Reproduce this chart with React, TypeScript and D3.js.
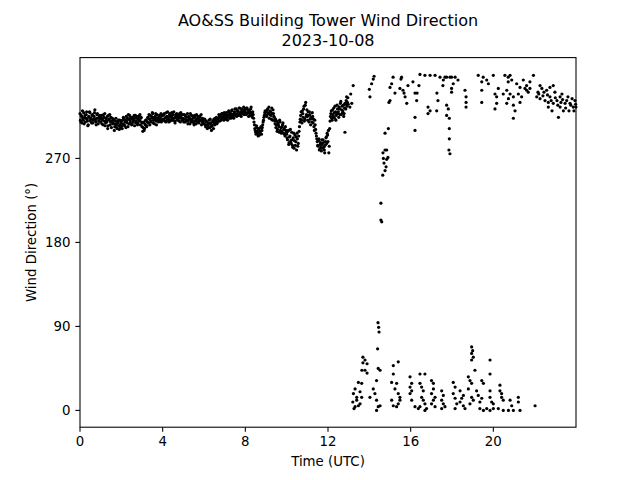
import * as d3 from "d3";
import { useMemo } from "react";

const title = "AO&SS Building Tower Wind Direction";
const subtitle = "2023-10-08";
const xLabel = "Time (UTC)";
const yLabel = "Wind Direction (°)";
const xTicks = [0, 4, 8, 12, 16, 20];
const yTicks = [0, 90, 180, 270];

// steady NW flow until ~13 UTC, one row per hour, readings every 0.04 h
const bandStep = 0.04;
const bandDirsA = [
  318, 309, 315, 321, 311, 307, 316, 313, 320, 310, 306, 314, 319, 312, 308, 317, 311, 315, 322, 309, 313, 318, 307, 314, 316,
  309, 316, 312, 306, 314, 318, 308, 311, 315, 305, 312, 317, 309, 303, 313, 308, 311, 304, 310, 306, 302, 309, 305, 311, 303,
  310, 302, 307, 313, 305, 311, 315, 308, 304, 312, 316, 309, 313, 307, 314, 311, 305, 316, 310, 313, 308, 315, 311, 306, 314,
  304, 299, 309, 302, 306, 311, 305, 314, 308, 312, 316, 309, 313, 318, 311, 307, 315, 310, 317, 313, 309, 316, 312, 318, 311,
  316, 311, 318, 313, 309, 315, 320, 312, 316, 310, 314, 319, 311, 317, 313, 308, 315, 318, 312, 316, 310, 314, 319, 313, 311,
  313, 317, 309, 315, 311, 318, 310, 314, 307, 312, 316, 310, 313, 306, 314, 311, 317, 309, 313, 308, 315, 311, 306, 313, 309,
  307, 312, 304, 309, 302, 306, 311, 303, 308, 300, 305, 309, 312, 306, 311, 314, 308, 313, 317, 310, 315, 312, 318, 314, 311,
  316, 312, 319, 314, 317, 321, 313, 318, 315, 322, 317, 313, 320, 316, 323, 318, 321, 316, 324, 319, 315, 322, 318, 325, 320,
  322, 317, 324, 319, 315, 321, 318, 325, 316, 320, 313, 306, 300, 296, 303, 297, 301, 295, 299, 304, 300, 306, 311, 316, 321,
  320, 315, 323, 318, 313, 321, 316, 324, 311, 318, 314, 307, 303, 310, 301, 306, 298, 309, 303, 299, 306, 297, 302, 294, 300,
  296, 290, 300, 287, 294, 289, 298, 284, 292, 281, 295, 288, 279, 291, 286, 299, 309, 316, 311, 321, 314, 326, 312, 330, 317,
  315, 320, 309, 317, 306, 313, 319, 308, 304, 311, 301, 294, 288, 283, 291, 280, 287, 278, 285, 290, 282, 276, 288, 293, 297,
  288, 276, 302, 315, 321, 311, 317, 324, 313, 320, 316, 327, 318, 314, 323, 329, 317, 326, 321, 315, 324, 328, 332, 326, 335,
];
// the in-between readings, offset by half a step
const bandDirsB = [
  311, 316, 308, 313, 319, 314, 309, 317, 312, 305, 315, 320, 310, 313, 316, 308, 312, 319, 311, 306, 317, 313, 310, 315, 312,
  314, 307, 311, 317, 310, 305, 313, 309, 302, 316, 311, 306, 314, 310, 307, 312, 300, 307, 313, 303, 308, 311, 301, 306, 308,
  305, 311, 314, 306, 309, 303, 310, 313, 317, 307, 311, 314, 306, 312, 309, 316, 313, 308, 315, 306, 312, 310, 317, 313, 309,
  308, 303, 300, 307, 311, 304, 309, 313, 317, 306, 310, 315, 319, 308, 314, 312, 318, 306, 313, 311, 315, 310, 314, 309, 316,
  312, 317, 310, 314, 319, 311, 313, 309, 318, 315, 311, 316, 313, 320, 310, 314, 317, 311, 315, 313, 318, 309, 316, 312, 317,
  309, 312, 316, 310, 314, 307, 315, 312, 318, 309, 311, 315, 308, 316, 310, 307, 312, 315, 310, 314, 311, 317, 310, 308, 312,
  311, 306, 310, 305, 308, 303, 307, 312, 304, 306, 310, 302, 308, 313, 309, 307, 312, 310, 314, 316, 311, 318, 313, 316, 319,
  313, 318, 315, 311, 320, 316, 319, 313, 321, 317, 314, 319, 323, 317, 315, 321, 318, 324, 317, 320, 323, 318, 321, 317, 323,
  319, 324, 318, 322, 320, 316, 323, 319, 314, 317, 309, 302, 298, 305, 299, 294, 302, 298, 303, 296, 303, 309, 314, 319, 317,
  316, 322, 319, 325, 317, 320, 312, 318, 322, 315, 310, 312, 306, 299, 308, 304, 311, 300, 297, 304, 308, 301, 296, 304, 298,
  292, 299, 285, 293, 301, 286, 290, 282, 297, 289, 284, 293, 297, 283, 294, 304, 312, 320, 308, 318, 323, 310, 327, 315, 322,
  311, 316, 320, 312, 314, 309, 315, 312, 300, 306, 297, 291, 284, 289, 279, 285, 282, 290, 281, 287, 279, 284, 292, 286, 295,
  300, 283, 310, 318, 313, 322, 315, 319, 326, 311, 318, 323, 320, 325, 317, 331, 322, 319, 327, 318, 329, 323, 336, 330, 328,
];

// [hour, degrees] – scattered readings just west of north
const upperPoints: [number, number][] = [
  [12.82, 298], [13.06, 325], [13.1, 339], [13.15, 329], [13.22, 348],
  [14.0, 344], [14.03, 336], [14.11, 350], [14.19, 355], [14.23, 358],
  [14.76, 297], [14.92, 302], [14.76, 279], [14.66, 276], [14.68, 270], [14.84, 269],
  [14.71, 265], [14.81, 261], [14.76, 257], [14.65, 252], [14.84, 279], [14.9, 271],
  [14.56, 222], [14.56, 204], [14.6, 202],
  [14.95, 330], [15.0, 332], [15.0, 346], [15.08, 350], [15.15, 357], [15.24, 340],
  [15.48, 345], [15.53, 355], [15.56, 357], [15.63, 343], [15.68, 340], [15.73, 336], [15.81, 329],
  [15.87, 348], [16.11, 352], [16.21, 340], [16.29, 332], [16.31, 340], [16.4, 348],
  [16.21, 314], [16.21, 300], [16.45, 360], [16.69, 359], [16.94, 359],
  [16.84, 325], [16.84, 318], [16.94, 321], [17.26, 321], [17.27, 340], [17.32, 332],
  [17.18, 359], [17.42, 357], [17.56, 348], [17.58, 354], [17.66, 357], [17.74, 357], [17.9, 357],
  [17.74, 327], [17.82, 323], [17.74, 316], [17.87, 313], [17.87, 302], [17.87, 291], [17.9, 275], [17.85, 279],
  [17.98, 357], [18.06, 350], [17.98, 345], [17.98, 341], [18.15, 357], [18.29, 354],
  [18.63, 343], [18.68, 336], [18.68, 330], [18.68, 325],
  [19.27, 359], [19.44, 352], [19.51, 357], [19.68, 354], [19.76, 350], [20.0, 359],
  [19.44, 343], [19.44, 330], [20.08, 339], [20.16, 336], [20.16, 329], [20.08, 323],
  [20.24, 345], [20.48, 339], [20.56, 359], [20.72, 357], [20.81, 359], [20.89, 354], [20.72, 352],
  [20.65, 343], [20.81, 339], [20.73, 334], [20.65, 329], [20.97, 336], [20.97, 327], [21.05, 321], [20.97, 313],
  [21.13, 350], [21.29, 346], [21.21, 339], [21.37, 336], [21.29, 330],
  [21.45, 354], [21.61, 348], [21.77, 352], [21.94, 359], [21.53, 345], [21.69, 341], [21.61, 343], [21.77, 345],
  [22.1, 336], [22.16, 341], [22.26, 348], [22.26, 334], [22.35, 345], [22.4, 337], [22.5, 332],
  [22.58, 343], [22.66, 325], [22.66, 330], [22.74, 346], [22.74, 336], [22.84, 321], [22.9, 348], [22.9, 329],
  [22.98, 341], [23.08, 332], [23.15, 314], [23.23, 336], [23.23, 325], [23.27, 330], [23.32, 339], [23.39, 321],
  [23.47, 329], [23.55, 332], [23.61, 336], [23.66, 321], [23.71, 329], [23.81, 334], [23.87, 325], [23.9, 321],
  [23.95, 332], [24.0, 325],
  [22.2, 339], [22.45, 341], [22.62, 338], [22.8, 332], [23.0, 335], [23.12, 327], [23.35, 333],
  [23.5, 324], [23.75, 327], [23.98, 328],
];

// [hour, degrees] – readings just past north
const lowerPoints: [number, number][] = [
  [14.42, 94], [14.45, 89], [14.47, 84], [14.4, 66],
  [13.69, 57], [13.79, 54], [13.89, 50], [13.69, 51], [13.64, 43], [13.79, 43], [13.89, 40],
  [14.43, 45], [14.52, 43], [15.16, 48], [15.4, 52], [15.16, 39], [14.35, 32],
  [13.47, 30], [13.63, 29], [13.31, 23], [13.23, 18], [13.39, 14], [13.55, 20], [13.63, 14],
  [13.39, 11], [13.31, 4], [13.47, 5], [13.55, 7], [13.2, 9], [13.26, 2],
  [14.03, 14], [14.19, 23], [14.27, 18], [14.35, 11], [14.43, 4], [14.52, 5], [14.35, 0],
  [15.08, 30], [15.32, 29], [15.24, 23], [15.4, 18], [15.48, 14],
  [15.08, 11], [15.16, 5], [15.32, 4], [15.4, 7], [15.48, 11],
  [15.97, 36], [16.05, 29], [15.97, 25], [16.05, 21], [15.97, 18], [16.05, 11],
  [16.45, 39], [16.69, 39], [16.45, 29], [16.53, 25], [16.61, 21], [16.53, 14], [16.61, 11],
  [16.69, 7], [16.45, 4], [16.21, 4], [16.37, 2], [16.77, 2], [16.69, 0],
  [17.01, 32], [17.1, 29], [17.1, 23], [17.01, 18], [17.18, 14], [17.1, 11], [17.01, 7], [17.18, 4],
  [17.5, 21], [17.58, 16], [17.5, 11], [17.58, 7], [17.66, 4], [17.5, 2],
  [18.06, 30], [18.15, 25], [18.06, 18], [18.15, 13], [18.23, 7], [18.15, 2],
  [18.95, 68], [19.0, 64], [18.95, 61], [19.03, 57], [18.95, 54], [19.84, 54], [19.84, 39], [19.11, 43],
  [18.79, 36], [18.87, 32], [18.95, 29], [19.44, 32], [19.52, 29],
  [18.39, 21], [18.55, 16], [18.47, 13], [18.39, 9], [18.55, 5], [18.63, 2],
  [18.79, 23], [18.95, 14], [19.03, 11], [18.87, 7],
  [19.19, 21], [19.27, 16], [19.44, 13], [19.35, 9],
  [19.35, 2], [19.52, 0], [19.68, 2], [19.84, 0], [20.0, 2],
  [19.84, 21], [19.84, 14], [19.92, 9], [20.0, 7],
  [20.32, 27], [20.32, 21], [20.4, 18], [20.4, 14], [20.48, 11], [20.24, 2], [20.48, 0],
  [20.81, 11], [20.89, 5], [20.73, 0], [20.97, 0],
  [21.21, 14], [21.21, 9], [21.29, 0], [22.02, 5],
];

export default function App() {
  const width = 640;
  const height = 480;
  const margin = { top: 57.6, right: 64, bottom: 52.8, left: 80 };
  const font = "DejaVu Sans, sans-serif";

  const xScale = useMemo(
    () => d3.scaleLinear().domain([0, 24]).range([margin.left, width - margin.right]),
    []
  );
  const yScale = useMemo(
    () => d3.scaleLinear().domain([-18, 378]).range([height - margin.bottom, margin.top]),
    []
  );

  const points = useMemo(() => {
    const a: [number, number][] = bandDirsA.map((d, i) => [i * bandStep, d]);
    const b: [number, number][] = bandDirsB.map((d, i) => [i * bandStep + bandStep / 2, d]);
    return [...a, ...b, ...upperPoints, ...lowerPoints];
  }, []);

  const x0 = margin.left;
  const x1 = width - margin.right;
  const y0 = height - margin.bottom;
  const y1 = margin.top;

  return (
    <svg
      width={width}
      height={height}
      style={{ position: "absolute", left: 0, top: 0, background: "#fff" }}
      fontFamily={font}
    >
      <text x={(x0 + x1) / 2} y={26} textAnchor="middle" fontSize={16}>
        {title}
      </text>
      <text x={(x0 + x1) / 2} y={45.5} textAnchor="middle" fontSize={16}>
        {subtitle}
      </text>

      {points.map(([t, d], i) => (
        <circle key={i} cx={xScale(t)} cy={yScale(d)} r={1.6} fill="#000" />
      ))}

      <rect x={x0} y={y1} width={x1 - x0} height={y0 - y1} fill="none" stroke="#000" strokeWidth={1.07} />

      {xTicks.map(tick => (
        <g key={tick} transform={`translate(${xScale(tick)}, ${y0})`}>
          <line y2={4.67} stroke="#000" strokeWidth={1.07} />
          <text y={19} textAnchor="middle" fontSize={13.33}>
            {tick}
          </text>
        </g>
      ))}

      {yTicks.map(tick => (
        <g key={tick} transform={`translate(${x0}, ${yScale(tick)})`}>
          <line x2={-4.67} stroke="#000" strokeWidth={1.07} />
          <text x={-9.5} dy="0.35em" textAnchor="end" fontSize={13.33}>
            {tick}
          </text>
        </g>
      ))}

      <text x={(x0 + x1) / 2} y={465.5} textAnchor="middle" fontSize={13.33}>
        {xLabel}
      </text>
      <text
        transform={`translate(36, ${(y0 + y1) / 2}) rotate(-90)`}
        textAnchor="middle"
        fontSize={13.33}
      >
        {yLabel}
      </text>
    </svg>
  );
}
